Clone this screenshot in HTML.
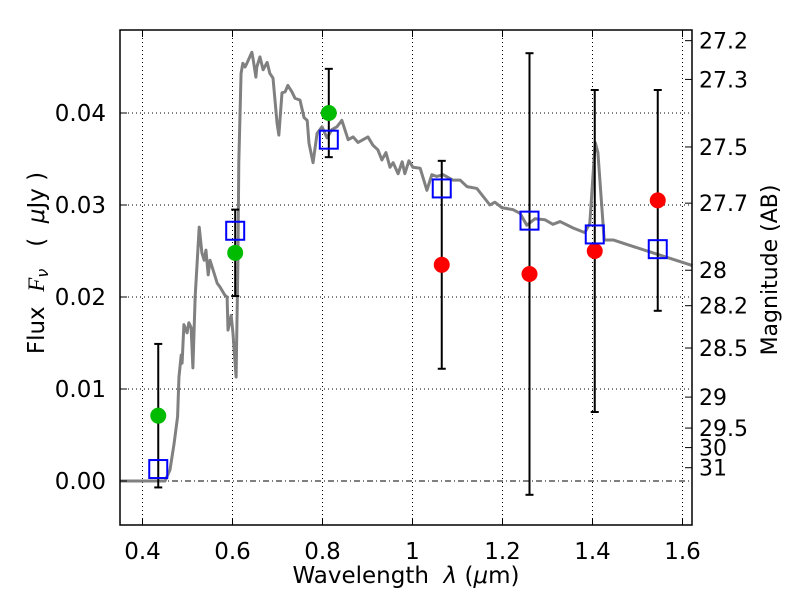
<!DOCTYPE html>
<html><head><meta charset="utf-8"><style>
body{margin:0;background:#fff;}
svg text{font-family:"DejaVu Sans","Liberation Sans",sans-serif;fill:#000;}
.pre{white-space:pre;}
</style></head><body>
<svg id="chart" width="800" height="600">
</svg>
<script>
const xTicks=[0.4,0.6,0.8,1.0,1.2,1.4,1.6];
const xTickLabels=["0.4","0.6","0.8","1","1.2","1.4","1.6"];
const yTicks=[0,0.01,0.02,0.03,0.04];
const yTickLabels=["0.00","0.01","0.02","0.03","0.04"];
const magTicks=[27.2,27.3,27.5,27.7,28,28.2,28.5,29,29.5,30,31];
const magTickLabels=["27.2","27.3","27.5","27.7","28","28.2","28.5","29","29.5","30","31"];
const obsWave=[0.435,0.606,0.814,1.065,1.26,1.405,1.545];
const obsFlux=[0.0071,0.0248,0.0400,0.0235,0.0225,0.0250,0.0305];
const obsErr=[0.0078,0.0047,0.0048,0.0113,0.0240,0.0175,0.0120];
const obsColor=["#00bb00","#00bb00","#00bb00","#ff0000","#ff0000","#ff0000","#ff0000"];
const modelFlux=[0.0013,0.0272,0.0371,0.0318,0.0283,0.0268,0.0252];
const specWave=[0.35,0.45,0.461,0.470,0.478,0.481,0.486,0.488,0.492,0.499,0.503,0.508,0.512,0.517,0.526,0.532,0.537,0.541,0.546,0.550,0.566,0.572,0.583,0.588,0.590,0.597,0.601,0.608,0.612,0.614,0.619,0.623,0.628,0.632,0.643,0.646,0.652,0.654,0.661,0.668,0.677,0.683,0.690,0.699,0.703,0.710,0.717,0.723,0.732,0.739,0.750,0.759,0.766,0.770,0.779,0.788,0.799,0.810,0.821,0.832,0.843,0.857,0.868,0.879,0.890,0.901,0.912,0.923,0.932,0.941,0.950,0.957,0.968,0.977,0.983,0.992,1.001,1.017,1.032,1.043,1.054,1.068,1.090,1.106,1.121,1.143,1.172,1.183,1.199,1.223,1.239,1.254,1.272,1.294,1.312,1.328,1.357,1.383,1.394,1.406,1.412,1.426,1.446,1.490,1.534,1.566,1.617,1.622];
const specFlux=[0,0,0.0012,0.0040,0.0070,0.0113,0.0137,0.0128,0.0170,0.0161,0.0172,0.0167,0.0123,0.0200,0.0276,0.0248,0.0240,0.0251,0.0224,0.0240,0.0215,0.0211,0.0202,0.0200,0.0164,0.0180,0.0161,0.0113,0.0237,0.0346,0.0443,0.0454,0.0450,0.0454,0.0466,0.0458,0.0439,0.0450,0.0461,0.0447,0.0455,0.0443,0.0438,0.0389,0.0376,0.0422,0.0423,0.0430,0.0423,0.0416,0.0414,0.0395,0.0392,0.0367,0.0346,0.0378,0.0385,0.0373,0.0382,0.0385,0.0392,0.0371,0.0374,0.0368,0.0371,0.0374,0.0365,0.0360,0.0349,0.0357,0.0341,0.0346,0.0334,0.0347,0.0334,0.0348,0.0341,0.0340,0.0316,0.0333,0.0331,0.0333,0.0327,0.0327,0.0320,0.0318,0.0300,0.0303,0.0297,0.0295,0.0291,0.0278,0.0285,0.0284,0.0279,0.0282,0.0275,0.0270,0.0280,0.0368,0.0357,0.0262,0.0262,0.0255,0.0248,0.0243,0.0235,0.0234];

const L=120,R=692,T=30,B=525;
const xs=w=>L+(w-0.35)*450;
const ys=f=>481-f*9200;
const magToFlux=m=>Math.pow(10,-0.4*(m-23.9));
const svg=document.getElementById('chart');
const NS='http://www.w3.org/2000/svg';
function mk(tag,attrs,parent){const e=document.createElementNS(NS,tag);for(const k in attrs)e.setAttribute(k,attrs[k]);(parent||svg).appendChild(e);return e;}

const grid=mk('g',{});


xTicks.forEach(t=>{mk('line',{x1:xs(t),x2:xs(t),y1:T,y2:B,stroke:'#000','stroke-width':1,'stroke-dasharray':'1,3'},grid);});
yTicks.forEach(t=>{mk('line',{x1:L,x2:R,y1:ys(t),y2:ys(t),stroke:'#000','stroke-width':1,'stroke-dasharray':t===0?'6,3,1,3':'1,3'},grid);});

const spec=mk('polyline',{points:specWave.map((w,i)=>xs(w)+','+ys(specFlux[i])).join(' '),fill:'none',stroke:'#808080','stroke-width':3,'stroke-linejoin':'round'});



obsWave.forEach((w,i)=>{
  const g=mk('g',{});
  
  
  const x=xs(w),y1=ys(obsFlux[i]+obsErr[i]),y2=ys(obsFlux[i]-obsErr[i]);
  mk('line',{x1:x,x2:x,y1:y1,y2:y2,stroke:'#000','stroke-width':2},g);
  mk('line',{x1:x-4,x2:x+4,y1:y1,y2:y1,stroke:'#000','stroke-width':2},g);
  mk('line',{x1:x-4,x2:x+4,y1:y2,y2:y2,stroke:'#000','stroke-width':2},g);
});
obsWave.forEach((w,i)=>{
  const c=mk('circle',{cx:xs(w),cy:ys(obsFlux[i]),r:8,fill:obsColor[i]});
  
  
});
obsWave.forEach((w,i)=>{
  const s=mk('rect',{x:xs(w)-9,y:ys(modelFlux[i])-9,width:18,height:18,fill:'none',stroke:'#0000ff','stroke-width':2});
  
  
});

const frame=mk('rect',{x:L,y:T,width:R-L,height:B-T,fill:'none',stroke:'#000','stroke-width':1.5});



xTicks.forEach((t,i)=>{
  mk('line',{x1:xs(t),x2:xs(t),y1:B,y2:B-7,stroke:'#000'});
  mk('line',{x1:xs(t),x2:xs(t),y1:T,y2:T+7,stroke:'#000'});
  const tx=mk('text',{x:xs(t),y:559,'font-size':23,'text-anchor':'middle'});
  tx.textContent=xTickLabels[i];
  
  
});
yTicks.forEach((t,i)=>{
  mk('line',{x1:L,x2:L+7,y1:ys(t),y2:ys(t),stroke:'#000'});
  const tx=mk('text',{x:106,y:ys(t)+8,'font-size':23,'text-anchor':'end'});
  tx.textContent=yTickLabels[i];
  
  
});
magTicks.forEach((m,i)=>{
  const y=ys(magToFlux(m));
  mk('line',{x1:R,x2:R-7,y1:y,y2:y,stroke:'#000'});
  const tx=mk('text',{x:699,y:y+8,'font-size':22,'text-anchor':'start'});
  tx.textContent=magTickLabels[i];
  
  
});
</script>
<svg width="800" height="600" style="position:absolute;left:0;top:0">
<text class="pre" x="406" y="583" font-size="23" text-anchor="middle" style="font-family:'DejaVu Sans',sans-serif">Wavelength  <tspan font-style="italic">λ</tspan> (<tspan font-style="italic">μ</tspan>m)</text>
<text class="pre" transform="translate(44,263) rotate(-90)" font-size="23" text-anchor="middle" style="font-family:'DejaVu Sans',sans-serif">Flux  <tspan font-style="italic" font-family="Liberation Serif">F</tspan><tspan font-style="italic" font-size="16" dy="4">ν</tspan><tspan dy="-4">   (  </tspan><tspan font-style="italic">μ</tspan>Jy )</text>
<text transform="translate(777,270) rotate(-90)" font-size="22" text-anchor="middle" style="font-family:'DejaVu Sans',sans-serif">Magnitude (AB)</text>
</svg>
</body></html>
